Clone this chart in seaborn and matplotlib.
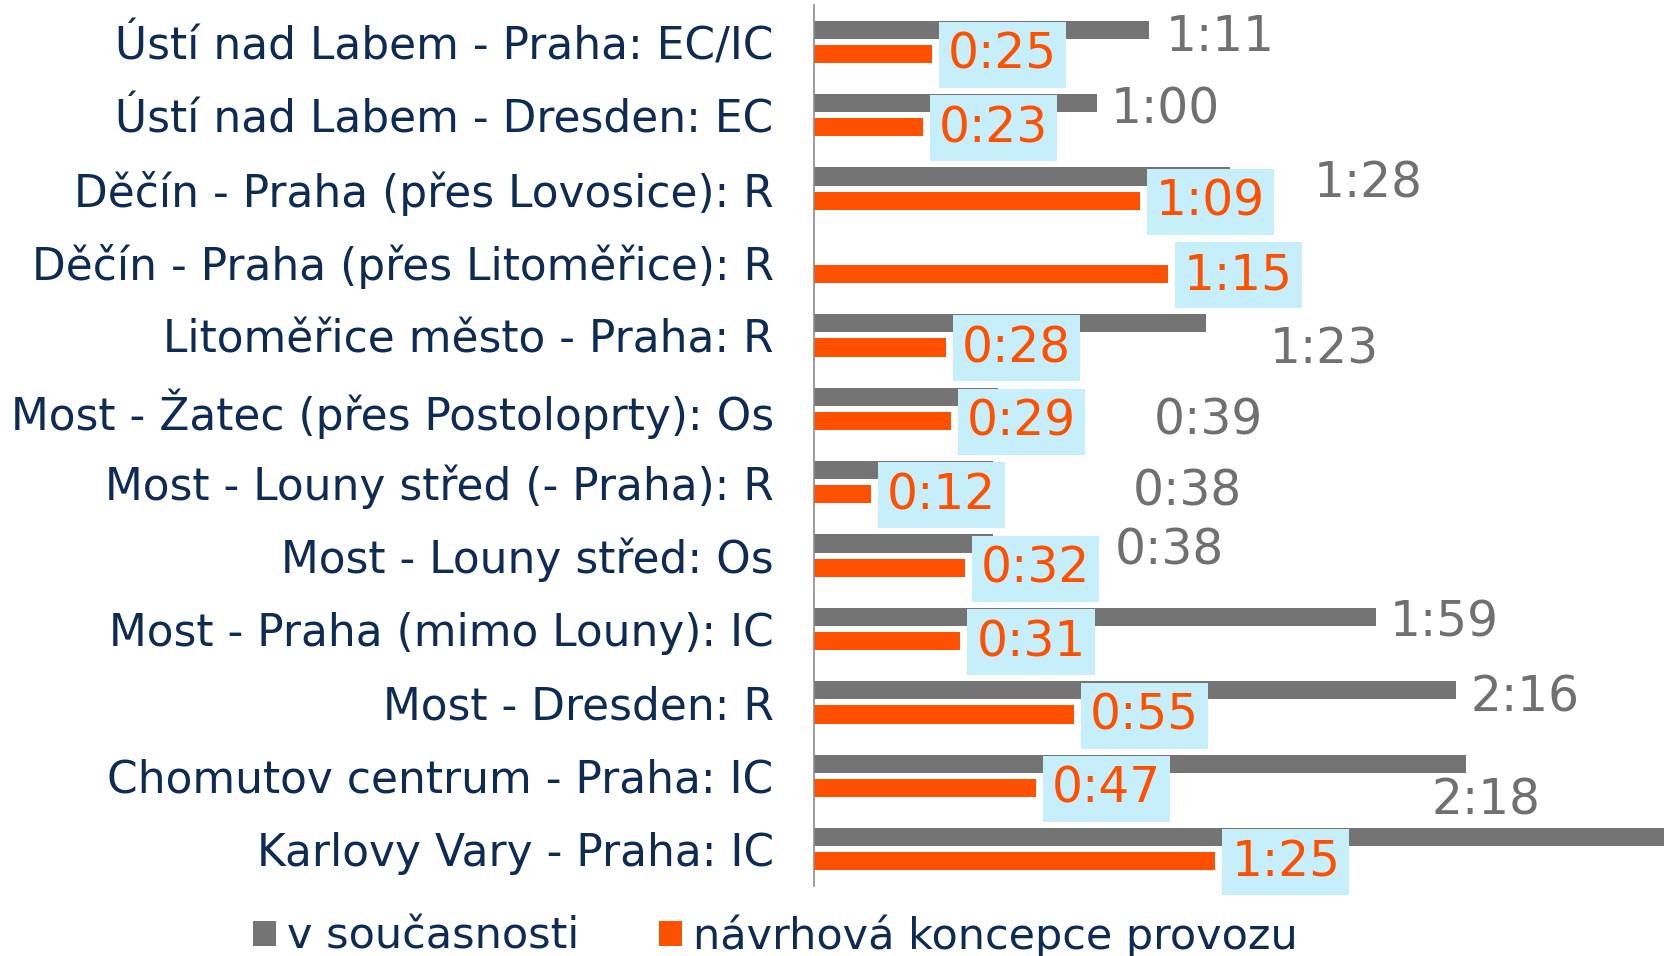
import numpy as np
import pandas as pd
import matplotlib
matplotlib.use("Agg")
import matplotlib.pyplot as plt
import seaborn as sns

# ---------------- data ----------------
routes = [
    "Ústí nad Labem - Praha: EC/IC",
    "Ústí nad Labem - Dresden: EC",
    "Děčín - Praha (přes Lovosice): R",
    "Děčín - Praha (přes Litoměřice): R",
    "Litoměřice město - Praha: R",
    "Most - Žatec (přes Postoloprty): Os",
    "Most - Louny střed (- Praha): R",
    "Most - Louny střed: Os",
    "Most - Praha (mimo Louny): IC",
    "Most - Dresden: R",
    "Chomutov centrum - Praha: IC",
    "Karlovy Vary - Praha: IC",
]
series_names = ["v současnosti", "návrhová koncepce provozu"]
current_minutes = [71, 60, 88, np.nan, 83, 39, 38, 38, 119, 136, 138, 190]
proposed_minutes = [25, 23, 69, 75, 28, 29, 12, 32, 31, 55, 47, 85]

# label placement for the grey labels (pixel offsets from bar end / bar centre)
grey_label_dx_px = [16, 13, 84, 0, 64, 156, 139, 121, 14, 14, -34, 14]
grey_label_dy_px = [7, 6, 7, 0, 26, 24, 21, 7, 6, 7, 37, 7]

# ---------------- style ----------------
GREY = "#747474"
ORANGE = "#FF5000"
NAVY = "#0D2B55"
GREY_TXT = "#707070"
BOX = "#C7EEFB"
DPI = 100
W, H = 1664, 956
XMAX = 180

sns.set_theme(style="white")
plt.rcParams["font.family"] = ["DejaVu Sans"]

fig = plt.figure(figsize=(W / DPI, H / DPI), dpi=DPI)
ax = fig.add_axes([814 / W, 1 - 886 / H, 1 - 814 / W, (886 - 5) / H])

df = pd.DataFrame({
    "route": routes * 2,
    "series": [series_names[0]] * len(routes) + [series_names[1]] * len(routes),
    "minutes": list(current_minutes) + list(proposed_minutes),
})

sns.barplot(data=df, y="route", x="minutes", hue="series", orient="h",
            palette=[GREY, ORANGE], saturation=1, width=0.66, gap=0.25,
            errorbar=None, ax=ax, linewidth=0)

ax.set_xlim(0, XMAX)
ax.set_ylim(len(routes) - 0.5, -0.5)
ax.set_xlabel("")
ax.set_ylabel("")
ax.set_xticks([])
ax.tick_params(axis="y", length=0, pad=29, labelsize=31.6, labelcolor=NAVY)
for lbl in ax.get_yticklabels():
    lbl.set_y(lbl.get_position()[1])
for s in ["top", "right", "bottom"]:
    ax.spines[s].set_visible(False)
ax.spines["left"].set_color("#8C8C8C")
ax.spines["left"].set_linewidth(1.2)

px2pt = 72 / DPI


def fmt(m):
    m = int(round(m))
    return f"{m // 60}:{m % 60:02d}"


# grey labels (values beyond the axis are not shown, as in the original)
for bar in ax.containers[0]:
    w = bar.get_width()
    if not np.isfinite(w) or w <= 0 or w > XMAX:
        continue
    cy = bar.get_y() + bar.get_height() / 2
    i = int(round(cy))
    ax.annotate(fmt(w), xy=(w, cy),
                xytext=(grey_label_dx_px[i] * px2pt, -grey_label_dy_px[i] * px2pt),
                textcoords="offset points", ha="left", va="center",
                fontsize=35, color=GREY_TXT, annotation_clip=False)

# orange labels with boxes
for bar in ax.containers[1]:
    w = bar.get_width()
    if not np.isfinite(w) or w <= 0:
        continue
    cy = bar.get_y() + bar.get_height() / 2
    ax.annotate(fmt(w), xy=(w, cy), xytext=(16 * px2pt, -1 * px2pt),
                textcoords="offset points", ha="left", va="center",
                fontsize=35, color=ORANGE, zorder=5,
                bbox=dict(boxstyle="square,pad=0.185", fc=BOX, ec="none"))

handles, labels = ax.get_legend_handles_labels()
if ax.get_legend() is not None:
    ax.get_legend().remove()
fig.legend(handles, labels, loc="center", bbox_to_anchor=(0.466, 0.021),
           ncol=2, frameon=False, fontsize=31, handlelength=0.53,
           handleheight=0.53, handletextpad=0.25, columnspacing=1.87,
           labelcolor=NAVY)

fig.savefig("out.png", dpi=DPI)
